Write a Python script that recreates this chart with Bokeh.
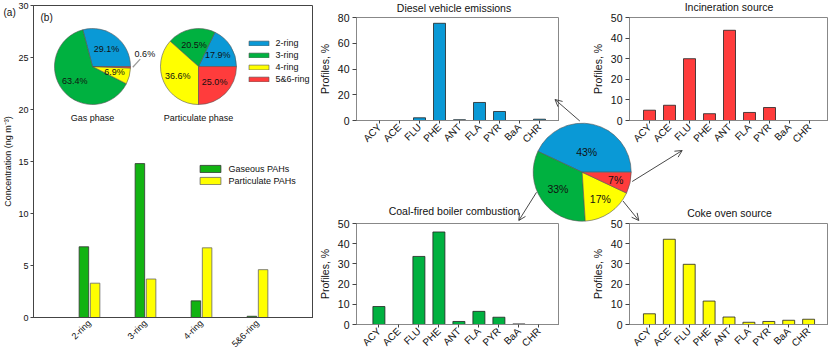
import math
from bokeh.plotting import figure
from bokeh.models import (Range1d, FixedTicker, ColumnDataSource, Legend, LegendItem,
                          Arrow, OpenHead, GridBox, Label)
from bokeh.transform import dodge
from bokeh.embed import file_html
from bokeh.resources import INLINE
from bokeh.core.properties import value

FONT = "Liberation Sans"

# ---------------- data ----------------
ring_types = ["2-ring", "3-ring", "4-ring", "5&6-ring"]
gaseous_pahs = [6.8, 14.8, 1.6, 0.12]
particulate_pahs = [3.3, 3.7, 6.7, 4.6]
gas_phase_share = [29.1, 63.4, 6.9, 0.6]
particulate_phase_share = [17.9, 20.5, 36.6, 25.0]

compounds = ["ACY", "ACE", "FLU", "PHE", "ANT", "FLA", "PYR", "BaA", "CHR"]
diesel_profile = [0, 0, 2.1, 75.5, 0.6, 14.0, 7.0, 0, 1.0]
incineration_profile = [5.0, 7.4, 30.0, 3.3, 43.8, 3.9, 6.3, 0, 0]
coal_profile = [8.9, 0, 33.7, 45.8, 1.5, 6.5, 3.6, 0.3, 0]
coke_profile = [5.3, 42.2, 29.8, 11.6, 3.7, 1.1, 1.5, 2.1, 2.6]

source_names = ["Diesel vehicle emissions", "Coal-fired boiler combustion",
                "Coke oven source", "Incineration source"]
source_share = [43, 33, 17, 7]

# ---------------- styles ----------------
BLUE = "#0a99d6"
GREEN = "#00b140"
BAR_GREEN = "#12b312"
YELLOW = "#ffff00"
RED = "#ff3c3c"
ring_colors = [BLUE, GREEN, YELLOW, RED]
source_colors = [BLUE, GREEN, YELLOW, RED]
AX = "#444444"
TXT = "#111111"


def wedge_table(shares):
    total = float(sum(shares))
    starts, ends, mids = [], [], []
    acc = 0.0
    for s in shares:
        a0 = 2 * math.pi * acc / total
        acc += s
        a1 = 2 * math.pi * acc / total
        starts.append(a0)
        ends.append(a1)
        mids.append((a0 + a1) / 2)
    return starts, ends, mids


def style_axes(p, font_size):
    for ax in (p.xaxis[0], p.yaxis[0]):
        ax.axis_line_color = AX
        ax.major_tick_line_color = AX
        ax.major_tick_out = 4
        ax.major_tick_in = 0
        ax.minor_tick_line_color = None
        ax.major_label_text_font = FONT
        ax.major_label_text_font_size = font_size
        ax.major_label_text_color = TXT
        ax.axis_label_text_font = FONT
        ax.axis_label_text_font_style = "normal"
        ax.axis_label_text_font_size = font_size
        ax.axis_label_text_color = TXT
    p.xgrid.visible = False
    p.ygrid.visible = False
    p.background_fill_color = None
    p.border_fill_color = None


# ---------------- left panel ----------------
pl = figure(frame_width=280, frame_height=317, x_range=Range1d(0, 5), y_range=Range1d(0, 30),
            output_backend="svg", toolbar_location=None, title_location=None,
            frame_align=False,
            min_border_left=33, min_border_right=0, min_border_top=5, min_border_bottom=0)
# reference-layout coordinates for decorations (pies, notes)
pl.extra_x_ranges = {"ref": Range1d(33, 313)}
pl.extra_y_ranges = {"ref": Range1d(322, 5)}
pl.outline_line_color = AX
style_axes(pl, "9px")

ring_pos = list(range(1, len(ring_types) + 1))
bar_src = ColumnDataSource(dict(pos=ring_pos, gas=gaseous_pahs, part=particulate_pahs))
r_gas = pl.vbar(x=dodge("pos", -0.1), top="gas", width=0.17, source=bar_src,
                fill_color=BAR_GREEN, line_color="#333333", line_width=0.8)
r_part = pl.vbar(x=dodge("pos", 0.1), top="part", width=0.17, source=bar_src,
                 fill_color=YELLOW, line_color="#666666", line_width=0.8)

pl.xaxis.ticker = FixedTicker(ticks=ring_pos)
pl.xaxis.major_label_overrides = {p: t for p, t in zip(ring_pos, ring_types)}
pl.xaxis.major_label_orientation = math.pi / 4
pl.xaxis.major_tick_line_color = None
pl.xaxis.major_tick_out = 0
pl.xaxis.major_label_standoff = 4
pl.yaxis.ticker = FixedTicker(ticks=[0, 5, 10, 15, 20, 25, 30])
pl.yaxis.axis_label = "Concentration (ng m\u207b\u00b3)"
pl.yaxis.axis_label_standoff = 2
pl.yaxis.major_label_standoff = 2
pl.yaxis.major_tick_out = 3

PIE_R = 38      # screen px
PIE_R_REF = 38  # same radius in reference units


def add_small_pie(p, shares, cx, cy, caption):
    s, e, m = wedge_table(shares)
    n = len(shares)
    src = ColumnDataSource(dict(x=[cx] * n, y=[cy] * n, start=s, end=e, color=ring_colors))
    r = p.wedge(x="x", y="y", radius=PIE_R, radius_units="screen",
                start_angle="start", end_angle="end", fill_color="color",
                line_color="#555555", line_width=0.6, source=src,
                x_range_name="ref", y_range_name="ref")
    lx, ly, lt = [], [], []
    for share, mid in zip(shares, m):
        if share >= 2:
            d = 0.6 * PIE_R_REF
            lx.append(cx + d * math.cos(mid))
            ly.append(cy - d * math.sin(mid))
        else:
            a = mid + math.radians(15)
            d = 1.42 * PIE_R_REF
            lx.append(cx + d * math.cos(a))
            ly.append(cy - d * math.sin(a))
            a1 = mid + math.radians(10)
            p.segment(x0=[cx + 1.06 * PIE_R_REF * math.cos(mid)],
                      y0=[cy - 1.06 * PIE_R_REF * math.sin(mid)],
                      x1=[cx + 1.27 * PIE_R_REF * math.cos(a1)],
                      y1=[cy - 1.27 * PIE_R_REF * math.sin(a1)],
                      line_color="#999999", line_width=1.2,
                      x_range_name="ref", y_range_name="ref")
        lt.append(f"{share:.1f}%")
    p.text(x=lx, y=ly, text=lt, text_align="center", text_baseline="middle",
           text_font=value(FONT), text_font_size="9px", text_color=TXT,
           x_range_name="ref", y_range_name="ref")
    p.text(x=[cx], y=[cy + 52], text=[caption], text_align="center", text_baseline="middle",
           text_font=value(FONT), text_font_size="9px", text_color=TXT,
           x_range_name="ref", y_range_name="ref")
    return r


add_small_pie(pl, gas_phase_share, 92, 67, "Gas phase")
r_ppie = add_small_pie(pl, particulate_phase_share, 198, 67, "Particulate phase")

pl.add_layout(Label(x=40, y=17, text="(b)", x_range_name="ref", y_range_name="ref",
                    text_align="left", text_baseline="middle",
                    text_font=FONT, text_font_size="10px", text_color=TXT))

FRAME_L, FRAME_B = 33, 322   # left panel frame edges in reference pixels
ITEM_H = 12
LEG_DY = 4


def legend_loc(box_left, glyph_w, first_center, n_items):
    return (box_left - FRAME_L - 0.1 * glyph_w,
            FRAME_B - (first_center - ITEM_H / 2 + n_items * ITEM_H) - LEG_DY)


ring_legend = Legend(
    items=[LegendItem(label=t, renderers=[r_ppie], index=i) for i, t in enumerate(ring_types)],
    location=legend_loc(248, 25, 44, len(ring_types)),
    glyph_width=25, glyph_height=6, label_height=ITEM_H, spacing=0, label_standoff=5,
    padding=0, margin=0, border_line_color=None, background_fill_alpha=0,
    label_text_font=FONT, label_text_font_size="9px", label_text_color=TXT)
pl.add_layout(ring_legend)

bar_legend = Legend(
    items=[LegendItem(label="Gaseous PAHs", renderers=[r_gas]),
           LegendItem(label="Particulate PAHs", renderers=[r_part])],
    location=legend_loc(200, 26, 169.5, 2),
    glyph_width=26, glyph_height=9, label_height=ITEM_H, spacing=0, label_standoff=5,
    padding=0, margin=0, border_line_color=None, background_fill_alpha=0,
    label_text_font=FONT, label_text_font_size="9px", label_text_color=TXT)
pl.add_layout(bar_legend)


# ---------------- right panels ----------------
def profile_fig(values, color, frame_w, border_l, border_t, x_rng, ymax, ystep):
    p = figure(frame_width=frame_w, frame_height=103, x_range=Range1d(*x_rng),
               y_range=Range1d(0, ymax), output_backend="svg", toolbar_location=None,
               title_location=None, frame_align=False,
               min_border_left=border_l, min_border_right=0,
               min_border_top=border_t, min_border_bottom=0)
    p.outline_line_color = "#888888"
    style_axes(p, "10.5px")
    pos = list(range(len(compounds)))
    p.vbar(x=pos, top=values, width=0.6, fill_color=color, line_color="#222222", line_width=0.8)
    p.xaxis.ticker = FixedTicker(ticks=pos)
    p.xaxis.major_label_overrides = {i: c for i, c in zip(pos, compounds)}
    p.xaxis.major_label_orientation = math.pi / 4
    p.xaxis.major_label_text_font_size = "10px"
    p.xaxis.major_tick_out = 3
    p.xaxis.major_label_standoff = 2
    p.yaxis.ticker = FixedTicker(ticks=list(range(0, ymax + 1, ystep)))
    p.yaxis.axis_label = "Profiles, %"
    p.yaxis.axis_label_standoff = 4
    p.yaxis.major_label_standoff = 3
    p.xaxis.axis_line_color = "#888888"
    p.yaxis.axis_line_color = "#888888"
    return p


pd_ = profile_fig(diesel_profile, BLUE, 203, 37, 17, (-1.15, 9.0), 80, 20)
pi_ = profile_fig(incineration_profile, RED, 199, 41, 17, (-1.0, 8.95), 50, 10)
pc_ = profile_fig(coal_profile, GREEN, 203, 37, 53, (-1.12, 9.03), 50, 10)
pk_ = profile_fig(coke_profile, YELLOW, 199, 41, 53, (-1.0, 9.0), 50, 10)

# ---------------- overlay: titles, source pie + arrows (reference pixel coordinates) --------
po = figure(width=832, height=355, x_range=Range1d(0, 832), y_range=Range1d(355, 0),
            output_backend="svg", toolbar_location=None, title_location=None,
            x_axis_location=None, y_axis_location=None, frame_align=False,
            min_border=0, min_border_left=0, min_border_right=0,
            min_border_top=0, min_border_bottom=0,
            background_fill_color=None, border_fill_color=None, outline_line_color=None)
po.xgrid.visible = False
po.ygrid.visible = False

po.text(x=[3], y=[12], text=["(a)"], text_align="left", text_baseline="middle",
        text_font=value(FONT), text_font_size="10px", text_color=TXT)

# panel titles (order as in source_names)
title_x = [453.5, 453.5, 729, 728.5]
title_y = [7, 210.5, 212.5, 6.5]
po.text(x=title_x, y=title_y, text=source_names, text_align="center", text_baseline="middle",
        text_font=value(FONT), text_font_size="10.5px", text_color=TXT)

CX, CY, CR = 581.7, 171.7, 49
s, e, m = wedge_table(source_share)
n = len(source_share)
po.wedge(x=[CX] * n, y=[CY] * n, radius=CR, radius_units="screen",
         start_angle=s, end_angle=e, fill_color=source_colors,
         line_color="#555555", line_width=0.6)
label_r = [0.42, 0.6, 0.66, 0.7]
po.text(x=[CX + f * CR * math.cos(a) for f, a in zip(label_r, m)],
        y=[CY - f * CR * math.sin(a) for f, a in zip(label_r, m)],
        text=[f"{v:.0f}%" for v in source_share],
        text_align="center", text_baseline="middle",
        text_font=value(FONT), text_font_size="10.5px", text_color=TXT)

arrows = [((579.3, 120.5), (554.5, 99)),     # diesel
          ((631.7, 181), (681.7, 150)),      # incineration
          ((536, 191.8), (518.3, 220)),      # coal
          ((622.5, 200.5), (638.3, 220))]    # coke
for (x0, y0), (x1, y1) in arrows:
    po.add_layout(Arrow(end=OpenHead(size=7, line_width=0.9, line_color="#333333"),
                        x_start=x0, y_start=y0, x_end=x1, y_end=y1,
                        line_width=0.9, line_color="#333333"))

grid = GridBox(children=[(pl, 0, 0, 2, 1), (pd_, 0, 1), (pi_, 0, 2),
                         (pc_, 1, 1), (pk_, 1, 2), (po, 0, 0, 2, 3)],
               rows=["170px", "185px"], cols=["315px", "273px", "244px"], spacing=0,
               width=832, height=355, styles={"overflow": "hidden"})

open("out.html", "w").write(file_html(grid, INLINE))
